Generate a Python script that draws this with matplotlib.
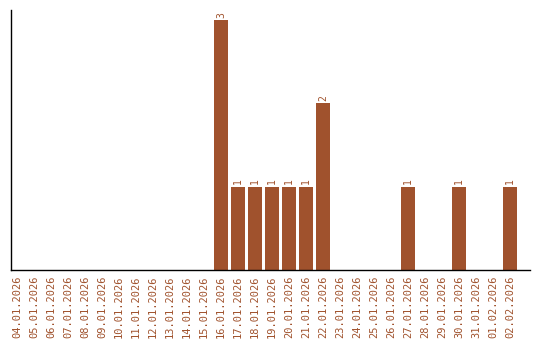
import matplotlib
matplotlib.use('Agg')
import matplotlib.pyplot as plt

dates = ['04.01.2026', '05.01.2026', '06.01.2026', '07.01.2026', '08.01.2026',
         '09.01.2026', '10.01.2026', '11.01.2026', '12.01.2026', '13.01.2026',
         '14.01.2026', '15.01.2026', '16.01.2026', '17.01.2026', '18.01.2026',
         '19.01.2026', '20.01.2026', '21.01.2026', '22.01.2026', '23.01.2026',
         '24.01.2026', '25.01.2026', '26.01.2026', '27.01.2026', '28.01.2026',
         '29.01.2026', '30.01.2026', '31.01.2026', '01.02.2026', '02.02.2026']
counts = [0, 0, 0, 0, 0, 0, 0, 0, 0, 0, 0, 0, 3, 1, 1, 1, 1, 1, 2, 0,
          0, 0, 0, 1, 0, 0, 1, 0, 0, 1]

bar_color = '#a0522d'
text_color = '#a0522d'

fig = plt.figure(figsize=(5.4, 3.4), dpi=100)
ax = fig.add_axes([0.0204, 0.206, 0.961, 0.764])

x = list(range(len(dates)))
ax.bar(x, counts, width=0.82, color=bar_color)

# value labels above non-empty bars
for xi, c in zip(x, counts):
    if c > 0:
        ax.text(xi, c + 0.03, str(c), rotation=90, ha='center', va='bottom',
                fontsize=7, family='DejaVu Sans Mono', color=text_color)

ax.set_xlim(-0.35, len(dates) + 0.18)
ax.set_ylim(0, 3.12)
ax.set_xticks(x)
ax.set_xticklabels(dates, rotation=90, fontsize=7.5, family='DejaVu Sans Mono',
                   color=text_color)
ax.tick_params(axis='x', length=0, pad=4)
ax.set_yticks([])

for side in ['top', 'right']:
    ax.spines[side].set_visible(False)
for side in ['left', 'bottom']:
    ax.spines[side].set_color('black')
    ax.spines[side].set_linewidth(1)

fig.savefig('out.png', dpi=100)
